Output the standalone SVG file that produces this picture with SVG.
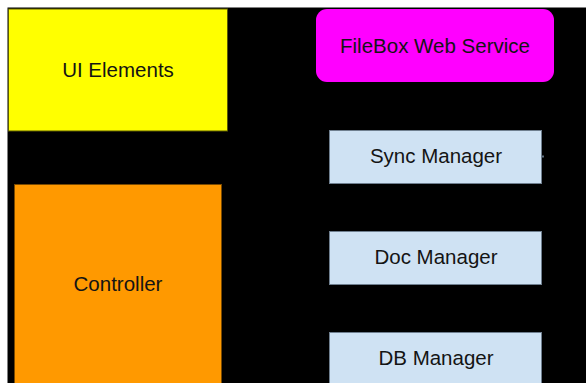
<svg xmlns="http://www.w3.org/2000/svg" width="586" height="383" viewBox="0 0 586 383">
<style>
text{font-family:"Liberation Sans",Arial,sans-serif;font-size:20.5px;fill:#141414;text-anchor:middle}
.blue{fill:#cfe2f3;stroke:#6f7f8f;stroke-width:1}
</style>
<rect x="0" y="0" width="586" height="383" fill="#ffffff"/>
<rect x="7.5" y="7.5" width="580" height="380" fill="#000000"/>
<g id="ui-elements">
<rect x="8.5" y="9" width="219" height="122" fill="#ffff00" stroke="#5a5a00" stroke-width="1"/>
<text x="118" y="77">UI Elements</text>
</g>
<g id="controller">
<rect x="14.5" y="184.5" width="207" height="210" fill="#ff9900" stroke="#7a4a00" stroke-width="1"/>
<text x="118" y="291">Controller</text>
</g>
<g id="filebox-web-service">
<rect x="316" y="9" width="238" height="73" rx="11" ry="11" fill="#ff00ff"/>
<text x="435" y="53">FileBox Web Service</text>
</g>
<g id="sync-manager">
<rect class="blue" x="329.5" y="130.5" width="212" height="53"/>
<text x="436" y="163">Sync Manager</text>
</g>
<g id="doc-manager">
<rect class="blue" x="329.5" y="231.5" width="212" height="53"/>
<text x="436" y="264">Doc Manager</text>
</g>
<g id="db-manager">
<rect class="blue" x="329.5" y="332.5" width="212" height="60"/>
<text x="436" y="365">DB Manager</text>
</g>
<g id="connectors">
<line x1="541.5" y1="156.5" x2="544" y2="156.5" stroke="#5f6f7f" stroke-width="2"/>
</g>
</svg>
